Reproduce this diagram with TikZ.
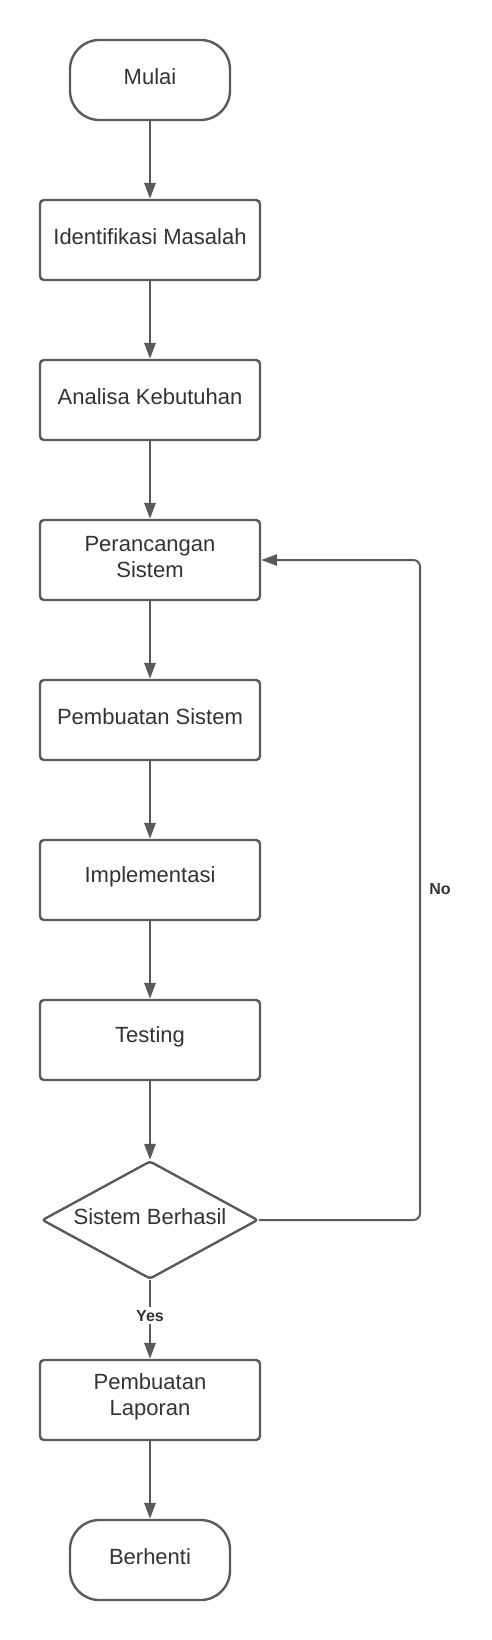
\documentclass[tikz,border=0pt]{standalone}
\usepackage{fontspec}
\setmainfont{Liberation Sans}
\usetikzlibrary{shapes.geometric,arrows.meta}
\definecolor{linec}{HTML}{5A5A5A}
\definecolor{textc}{HTML}{333333}
\begin{document}
\begin{tikzpicture}[x=0.75pt,y=-0.75pt,
  txt/.style={font=\fontsize{16.5}{19.5}\selectfont, text=textc, align=center, inner sep=0pt, yshift=2.2pt},
  box/.style={draw=linec, line width=1.8pt, rounded corners=3pt, minimum width=165pt,
    minimum height=60pt, inner sep=0pt, label={[txt]center:#1}},
  term/.style={box=#1, rounded corners=22pt, minimum width=120pt},
  dec/.style={diamond, aspect=1.83, draw=linec, line width=1.8pt, rounded corners=2pt,
    minimum width=162pt, minimum height=88.5pt, inner sep=0pt, label={[txt]center:#1}},
  conn/.style={draw=linec, line width=1.5pt, -{Triangle[length=12pt,width=8.5pt]}},
  lbl/.style={font=\bfseries\fontsize{12}{14}\selectfont, text=textc}
]
\useasboundingbox (0,0) rectangle (492,1640);
\node[term={Mulai}] (mulai) at (150,80) {};
\node[box={Identifikasi Masalah}] (b1) at (150,240) {};
\node[box={Analisa Kebutuhan}] (b2) at (150,400) {};
\node[box={Perancangan\\Sistem}] (b3) at (150,560) {};
\node[box={Pembuatan Sistem}] (b4) at (150,720) {};
\node[box={Implementasi}] (b5) at (150,880) {};
\node[box={Testing}] (b6) at (150,1040) {};
\node[dec={Sistem Berhasil}] (dec) at (150,1220) {};
\node[box={Pembuatan\\Laporan}] (b7) at (150,1400) {};
\node[term={Berhenti}] (stop) at (150,1560) {};
\coordinate (loopR) at (420,560);

\draw[conn] (mulai) -- (b1);
\draw[conn] (b1) -- (b2);
\draw[conn] (b2) -- (b3);
\draw[conn] (b3) -- (b4);
\draw[conn] (b4) -- (b5);
\draw[conn] (b5) -- (b6);
\draw[conn] (b6) -- (dec);
\draw[conn] (dec.south) -- node[lbl, fill=white, inner sep=2pt, pos=0.45] (yes) {Yes} (b7.north);
\draw[conn] (b7) -- (stop);
\draw[conn, rounded corners=5pt] (dec.east) -| (loopR) -- (b3.east);
\node[lbl] (no) at (440,889) {No};
\end{tikzpicture}
\end{document}
